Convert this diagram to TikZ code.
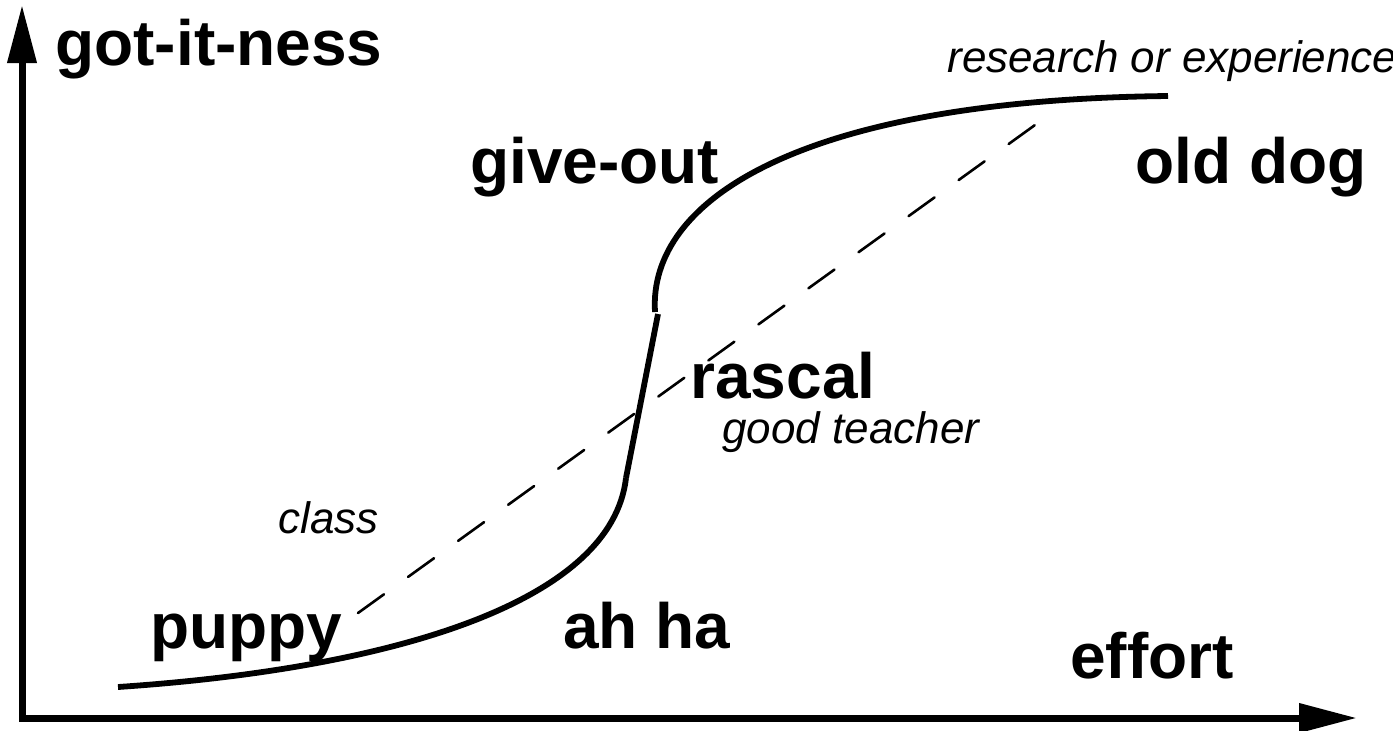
\documentclass[tikz,border=0pt]{standalone}
\usepackage{fontspec}
\setmainfont{Liberation Sans}
\usetikzlibrary{arrows.meta}
\begin{document}
\begin{tikzpicture}[x=0.5pt,y=-0.5pt,
  axis/.style={line width=3.5pt,-{Triangle[length=29pt,width=14pt]}},
  curve/.style={line width=2.9pt},
  trend/.style={line width=1.3pt,dash pattern=on 16pt off 14.85pt,line cap=round},
  big/.style={font=\fontsize{32}{36}\selectfont\bfseries,inner sep=0pt,anchor=base west},
  small/.style={font=\fontsize{22}{26}\selectfont\itshape,inner sep=0pt,anchor=base west}]
\useasboundingbox (0,0) rectangle (1393,730);
% axes
\coordinate (origin) at (22,718);
\coordinate (ytip) at (22,5);
\coordinate (xtip) at (1357,718);
\draw[axis] (22,721) -- (ytip);
\draw[axis] (19,718) -- (xtip);
% dashed trend
\coordinate (d1) at (358,613);
\coordinate (d2) at (1035,125);
\draw[trend] (d1) -- (d2);
% s-curve
\coordinate (c0) at (118,687);
\coordinate (c1) at (626,478);
\coordinate (c2) at (658,314);
\coordinate (c3) at (655,312);
\coordinate (c4) at (1168,96);
\draw[curve] (c0) .. controls (400,668) and (612,600) .. (c1);
\draw[curve] (c1) -- (c2);
\draw[curve] (c3) .. controls (648,200) and (800,100) .. (c4);
% labels
\node[big] (yl) at (55,65) {got-it-ness};
\node[big] (go) at (470,183) {give-out};
\node[big] (od) at (1135,183) {old dog};
\node[big] (ra) at (690,398) {rascal};
\node[small] (gt) at (722,443) {good teacher};
\node[small] (cl) at (278,533) {class};
\node[big] (pu) at (150,648) {puppy};
\node[big] (ah) at (563,648) {ah ha};
\node[big] (ef) at (1070,678) {effort};
\node[small] (re) at (947,72) {research or experience};
\end{tikzpicture}
\end{document}
